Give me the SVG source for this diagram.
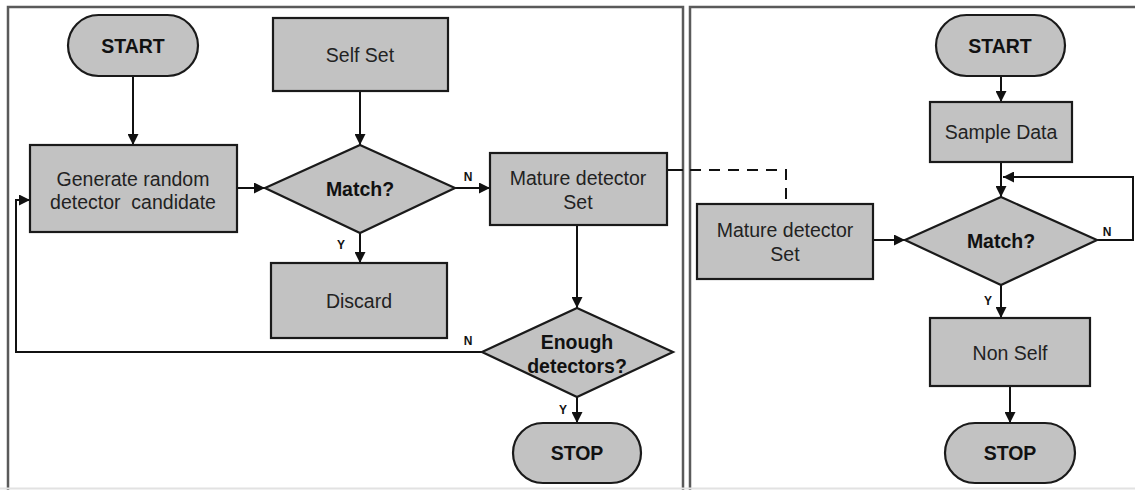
<svg xmlns="http://www.w3.org/2000/svg" width="1135" height="490" viewBox="0 0 1135 490">
<defs>
<marker id="ah" viewBox="0 0 10 10" refX="10" refY="5" markerWidth="12" markerHeight="11" markerUnits="userSpaceOnUse" orient="auto">
<path d="M0,0 L10,5 L0,10 Z" fill="#111"/>
</marker>
<style>
.shape{fill:#c2c2c2;stroke:#1a1a1a;stroke-width:2.2}
.panel{fill:none;stroke:#5a5a5a;stroke-width:2.5}
.t{font-family:"Liberation Sans",Arial,sans-serif;font-size:19.5px;fill:#222;text-anchor:middle;dominant-baseline:central}
.b{font-weight:bold;fill:#111}
.lbl{font-family:"Liberation Sans",Arial,sans-serif;font-size:12px;font-weight:bold;fill:#111;text-anchor:middle;dominant-baseline:central}
.c{fill:none;stroke:#111;stroke-width:2}
.cm{fill:none;stroke:#111;stroke-width:2;marker-end:url(#ah)}
</style>
</defs>
<rect width="1135" height="490" fill="#fff"/>
<g id="panels">
<rect class="panel" x="8" y="7" width="675" height="500"/>
<rect class="panel" x="690" y="7" width="470" height="500"/>
<line x1="0" y1="488.5" x2="1135" y2="488.5" stroke="#e2e2e2" stroke-width="2"/>
</g>
<g id="connectors">
<path class="cm" d="M133,76 V145"/>
<path class="cm" d="M360,91 V145"/>
<path class="cm" d="M237,188 H265"/>
<path class="cm" d="M455,188 H490"/>
<path class="cm" d="M360,233 V263"/>
<path class="cm" d="M577,225 V308"/>
<path class="cm" d="M577,397 V423"/>
<path class="cm" d="M482,352 H16 V200 H30"/>
<path class="c" d="M667,170 H683"/>
<path class="c" d="M690,170 H786 V204" stroke-dasharray="11,8"/>
<path class="cm" d="M1001,76 V102"/>
<path class="cm" d="M1001,162 V197"/>
<path class="cm" d="M1097,240 H1133 V177 H1003"/>
<path class="cm" d="M873,240 H905"/>
<path class="cm" d="M1001,285 V318"/>
<path class="cm" d="M1010,386 V423"/>
<text class="lbl" x="468" y="177">N</text>
<text class="lbl" x="341" y="245">Y</text>
<text class="lbl" x="468" y="341">N</text>
<text class="lbl" x="563" y="410">Y</text>
<text class="lbl" x="1107" y="232">N</text>
<text class="lbl" x="988" y="301">Y</text>
</g>
<g id="start1">
<rect class="shape" x="68" y="15" width="130" height="61" rx="30.5"/>
<text class="t b" x="133" y="46">START</text>
</g>
<g id="selfset">
<rect class="shape" x="273" y="18" width="175" height="73"/>
<text class="t" x="360" y="55">Self Set</text>
</g>
<g id="generate">
<rect class="shape" x="30" y="145" width="207" height="87"/>
<text class="t" x="133" y="179">Generate random</text>
<text class="t" x="133" y="202" xml:space="preserve">detector  candidate</text>
</g>
<g id="match1">
<polygon class="shape" points="360,145 455,188 360,233 265,188"/>
<text class="t b" x="360" y="189">Match?</text>
</g>
<g id="mature1">
<rect class="shape" x="490" y="153" width="177" height="72"/>
<text class="t" x="578" y="178">Mature detector</text>
<text class="t" x="578" y="202">Set</text>
</g>
<g id="discard">
<rect class="shape" x="271" y="263" width="176" height="75"/>
<text class="t" x="359" y="301">Discard</text>
</g>
<g id="enough">
<polygon class="shape" points="577,308 673,352 577,397 482,352"/>
<text class="t b" x="577" y="342">Enough</text>
<text class="t b" x="577" y="366">detectors?</text>
</g>
<g id="stop1">
<rect class="shape" x="513" y="423" width="128" height="60" rx="30"/>
<text class="t b" x="577" y="453">STOP</text>
</g>
<g id="start2">
<rect class="shape" x="936" y="15" width="129" height="61" rx="30.5"/>
<text class="t b" x="1000" y="46">START</text>
</g>
<g id="sample">
<rect class="shape" x="930" y="102" width="142" height="60"/>
<text class="t" x="1001" y="132">Sample Data</text>
</g>
<g id="mature2">
<rect class="shape" x="697" y="204" width="176" height="75"/>
<text class="t" x="785" y="230">Mature detector</text>
<text class="t" x="785" y="254">Set</text>
</g>
<g id="match2">
<polygon class="shape" points="1001,197 1097,240 1001,285 905,240"/>
<text class="t b" x="1001" y="241">Match?</text>
</g>
<g id="nonself">
<rect class="shape" x="930" y="318" width="160" height="68"/>
<text class="t" x="1010" y="353">Non Self</text>
</g>
<g id="stop2">
<rect class="shape" x="945" y="423" width="130" height="60" rx="30"/>
<text class="t b" x="1010" y="453">STOP</text>
</g>
</svg>
